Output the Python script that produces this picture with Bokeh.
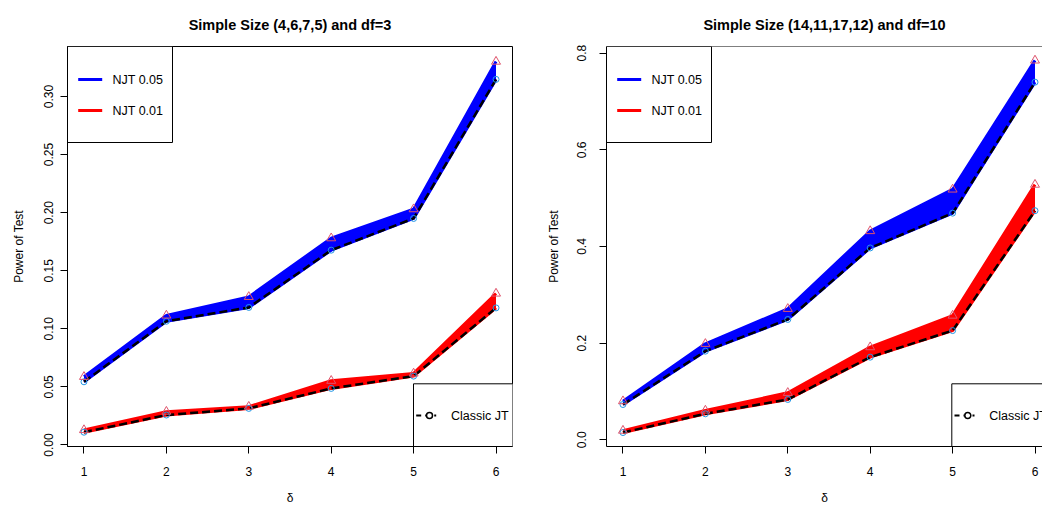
from bokeh.plotting import figure
from bokeh.layouts import row
from bokeh.models import FixedTicker, NumeralTickFormatter, Range1d, Span
from bokeh.core.properties import value
from bokeh.embed import file_html
from bokeh.resources import INLINE

FONT = "Liberation Sans"

delta = [1, 2, 3, 4, 5, 6]

# Panel 1: sample size (4,6,7,5), df=3
p1_jt05 = [0.0544, 0.1065, 0.1184, 0.1677, 0.1950, 0.3147]
p1_njt05_max = [0.0587, 0.1115, 0.1275, 0.1780, 0.2030, 0.3300]
p1_jt01 = [0.0110, 0.0258, 0.0315, 0.0487, 0.0593, 0.1180]
p1_njt01_max = [0.0129, 0.0287, 0.0330, 0.0553, 0.0616, 0.1304]
p1_yticks = [0.00, 0.05, 0.10, 0.15, 0.20, 0.25, 0.30]

# Panel 2: sample size (14,11,17,12), df=10
p2_jt05 = [0.0730, 0.1834, 0.2490, 0.3970, 0.4690, 0.7400]
p2_njt05_max = [0.0800, 0.1986, 0.2710, 0.4320, 0.5180, 0.7850]
p2_jt01 = [0.0150, 0.0538, 0.0834, 0.1710, 0.2260, 0.4740]
p2_njt01_max = [0.0190, 0.0606, 0.0972, 0.1917, 0.2570, 0.5280]
p2_yticks = [0.0, 0.2, 0.4, 0.6, 0.8]

titles = ["Simple Size (4,6,7,5) and df=3", "Simple Size (14,11,17,12) and df=10"]
legend_labels = ["NJT  0.05", "NJT  0.01"]
classic_label = "Classic JT"

BLUE = "#0000FF"
RED = "#FF0000"
CIRC = "#2297E6"
TRI = "#DF536B"


def make_panel(title, jt05, mx05, jt01, mx01, yticks, yfmt, xr, yr, fw, fh,
               bl, br, classic_dx, ytick_standoff, ylab_standoff, cut_right):
    p = figure(frame_width=fw, frame_height=fh, min_border_left=bl,
               min_border_right=br, min_border_top=46, min_border_bottom=59,
               x_range=Range1d(*xr), y_range=Range1d(*yr),
               output_backend="svg", toolbar_location=None, title=title)
    p.background_fill_color = "white"
    p.border_fill_color = "white"
    p.xgrid.visible = False
    p.ygrid.visible = False
    if cut_right:
        p.outline_line_color = None
        p.add_layout(Span(location=yr[1], dimension="width",
                          line_color="black", line_width=1))
    else:
        p.outline_line_color = "black"
        p.outline_line_width = 1
        p.outline_line_alpha = 1

    p.title.align = "center"
    p.title.text_font = FONT
    p.title.text_font_size = "14.5px"
    p.title.text_font_style = "bold"
    p.title.text_color = "black"
    p.title.standoff = 28

    for ax in (p.xaxis[0], p.yaxis[0]):
        ax.axis_line_color = "black"
        ax.major_tick_line_color = "black"
        ax.major_tick_out = 7
        ax.major_tick_in = 0
        ax.minor_tick_out = 0
        ax.minor_tick_in = 0
        ax.major_label_text_font = FONT
        ax.major_label_text_font_size = "12px"
        ax.major_label_text_color = "black"
        ax.axis_label_text_font = FONT
        ax.axis_label_text_font_size = "12px"
        ax.axis_label_text_font_style = "normal"
        ax.axis_label_text_color = "black"
    p.xaxis.ticker = FixedTicker(ticks=delta)
    p.xaxis.major_label_standoff = 13
    p.xaxis.axis_label = "δ"
    p.xaxis.axis_label_standoff = 12
    p.yaxis.ticker = FixedTicker(ticks=yticks)
    p.yaxis.formatter = NumeralTickFormatter(format=yfmt)
    p.yaxis.major_label_orientation = "vertical"
    p.yaxis.major_label_standoff = ytick_standoff
    p.yaxis.axis_label = "Power of Test"
    p.yaxis.axis_label_standoff = ylab_standoff

    # bands of NJT power curves
    for lo, hi, col in ((jt05, mx05, BLUE), (jt01, mx01, RED)):
        p.varea(x=delta, y1=lo, y2=hi, fill_color=col, fill_alpha=1)
        p.line(delta, hi, line_color=col, line_width=3, line_join="round")
        p.line(delta, lo, line_color=col, line_width=3, line_join="round")
    # classic JT
    for lo in (jt05, jt01):
        p.line(delta, lo, line_color="black", line_width=2.5, line_dash="8 4")
    for lo, hi in ((jt05, mx05), (jt01, mx01)):
        p.scatter(delta, lo, marker="circle", size=6, fill_color=None,
                  line_color=CIRC, line_width=1)
        p.scatter(delta, hi, marker="triangle", size=9, fill_color=None,
                  line_color=TRI, line_width=1)

    # helpers: pixel offsets from the frame's top-left corner -> data
    def dx(px):
        return xr[0] + px * (xr[1] - xr[0]) / fw

    def dy(px):
        return yr[1] - px * (yr[1] - yr[0]) / fh

    # NJT legend box (top-left)
    p.quad(left=[dx(0)], right=[dx(105)], top=[dy(0)], bottom=[dy(96)],
           fill_color="white", line_color="black", line_width=1)
    for i, (lab, col) in enumerate(zip(legend_labels, (BLUE, RED))):
        yy = dy(33 + 31 * i)
        p.line([dx(10.7), dx(34.7)], [yy, yy], line_color=col, line_width=3)
        p.text(x=[dx(45)], y=[yy], text=[lab], text_font=value(FONT),
               text_font_size=value("12.5px"), text_baseline="middle",
               text_align="left", text_color="black")

    # Classic JT legend box (bottom-right)
    p.quad(left=[dx(classic_dx)], right=[dx(fw + 20)], top=[dy(337.3)],
           bottom=[dy(fh + 20)], fill_color="white", line_color="black",
           line_width=1)
    yy = dy(369)
    p.line([dx(classic_dx + 2.7), dx(classic_dx + 22.7)], [yy, yy],
           line_color="black", line_width=2, line_dash="5 4")
    p.scatter([dx(classic_dx + 16)], [yy], marker="circle", size=6,
              fill_color="white", line_color="black", line_width=1.5)
    p.text(x=[dx(classic_dx + 37.4)], y=[yy], text=[classic_label],
           text_font=value(FONT), text_font_size=value("12.5px"),
           text_baseline="middle", text_align="left", text_color="black")
    return p


p1 = make_panel(titles[0], p1_jt05, p1_njt05_max, p1_jt01, p1_njt01_max,
                p1_yticks, "0.00", (0.8, 6.2), (-0.0013, 0.343), 445, 400,
                67, 28, 346, 7, 16, False)
p2 = make_panel(titles[1], p2_jt05, p2_njt05_max, p2_jt01, p2_njt01_max,
                p2_yticks, "0.0", (0.8, 6.091), (-0.0139, 0.8138), 436, 400,
                66, 0, 345.3, 13, 14, True)

layout = row(p1, p2)
open("out.html", "w").write(file_html(layout, INLINE))
